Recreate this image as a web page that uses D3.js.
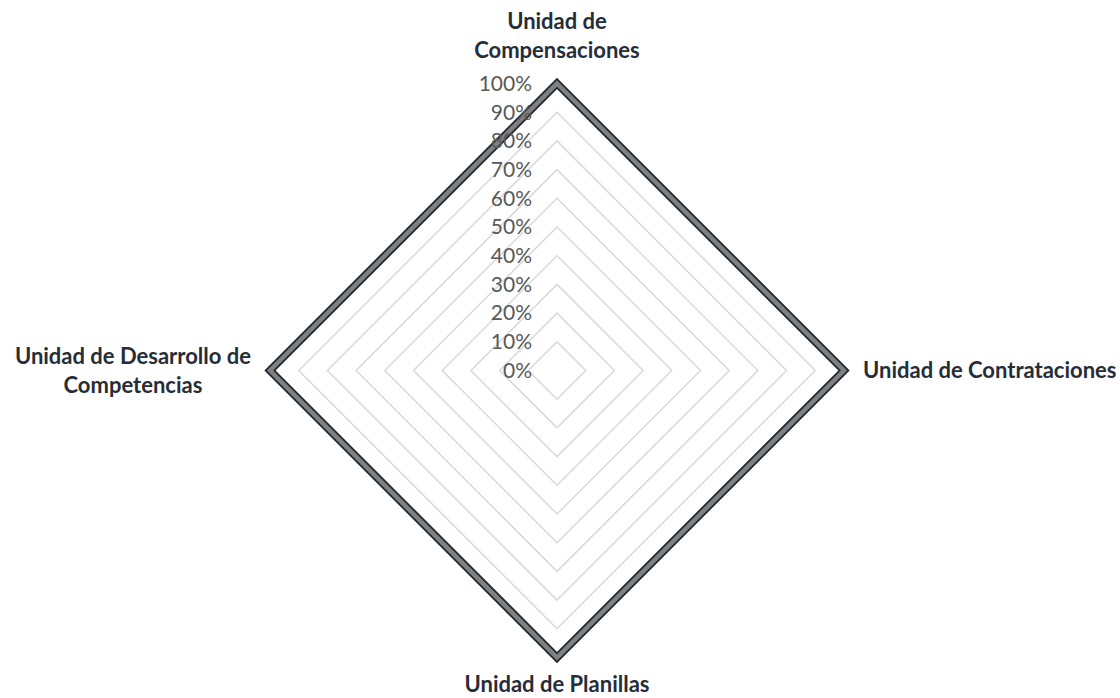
<!DOCTYPE html>
<html>
<head>
<meta charset="utf-8">
<script src="https://cdn.jsdelivr.net/npm/d3@7"></script>
<style>
  html, body { margin: 0; padding: 0; background: #fff; }
  svg { display: block; }
</style>
</head>
<body>
<div id="chart"></div>
<script>
// radar chart — four units, all at 100%
const categories = [
  ['Unidad de', 'Compensaciones'],
  ['Unidad de Contrataciones'],
  ['Unidad de Planillas'],
  ['Unidad de Desarrollo de', 'Competencias'],
]
const values = [1, 1, 1, 1]
const ticks = [0, 0.1, 0.2, 0.3, 0.4, 0.5, 0.6, 0.7, 0.8, 0.9, 1]

const W = 1120
const H = 698
const cx = 557
const cy = 370.5
const R = 287

const COLORS = {
  grid: '#d9d9d9',
  tick: '#595959',
  label: '#262d38',
  lineOuter: '#1f2733',
  lineInner: '#808080',
}

const svg = d3.select('#chart').append('svg')
  .attr('width', W)
  .attr('height', H)

const r = d3.scaleLinear().domain([0, 1]).range([0, R])
const angle = d3.scaleLinear().domain([0, categories.length]).range([0, 2 * Math.PI])

const point = (v, i) => [cx + r(v) * Math.sin(angle(i)), cy - r(v) * Math.cos(angle(i))]

const ring = d3.line().curve(d3.curveLinearClosed)

// grid rings
svg.append('g')
  .selectAll('path')
  .data(ticks.slice(1))
  .join('path')
  .attr('d', (t) => ring(categories.map((_, i) => point(t, i))))
  .attr('fill', 'none')
  .attr('stroke', COLORS.grid)
  .attr('stroke-width', 1.5)

// data series: dark outline with grey core
const dataPath = ring(values.map((v, i) => point(v, i)))
svg.append('path')
  .attr('d', dataPath)
  .attr('fill', 'none')
  .attr('stroke', COLORS.lineOuter)
  .attr('stroke-width', 8)
svg.append('path')
  .attr('d', dataPath)
  .attr('fill', 'none')
  .attr('stroke', COLORS.lineInner)
  .attr('stroke-width', 4.5)

// tick labels, right aligned left of the top spoke
svg.append('g')
  .selectAll('text')
  .data(ticks)
  .join('text')
  .attr('x', cx - 25)
  .attr('y', (t) => cy - r(t))
  .attr('dy', '0.35em')
  .attr('text-anchor', 'end')
  .attr('font-family', 'Lato, "Open Sans", sans-serif')
  .attr('font-size', '21px')
  .attr('fill', COLORS.tick)
  .text(d3.format('.0%'))

// category labels
const fs = 22
const lineH = 29
const pad = 19
const labels = svg.append('g')
  .selectAll('text')
  .data(categories)
  .join('text')
  .attr('text-anchor', 'middle')
  .attr('font-family', 'Lato, "Open Sans", sans-serif')
  .attr('font-weight', 'bold')
  .attr('font-size', fs + 'px')
  .attr('fill', COLORS.label)

labels.each(function (lines, i) {
  const t = d3.select(this)
  t.selectAll('tspan')
    .data(lines)
    .join('tspan')
    .attr('x', 0)
    .attr('dy', (d, k) => (k === 0 ? 0 : lineH))
    .text((d) => d)
  const w = d3.max(t.selectAll('tspan').nodes(), (n) => n.getComputedTextLength())
  const h = lines.length * lineH
  const a = angle(i)
  const [ax, ay] = point(1 + pad / R, i)
  const bx = ax + Math.sin(a) * w / 2
  const by = ay - Math.cos(a) * h / 2
  // first baseline relative to block centre
  let y0 = by - h / 2 + lineH / 2 + fs * 0.35
  if (y0 + (lines.length - 1) * lineH > H - 6) y0 = H - 6 - (lines.length - 1) * lineH
  t.attr('transform', `translate(${bx},${y0})`)
})
</script>
</body>
</html>
